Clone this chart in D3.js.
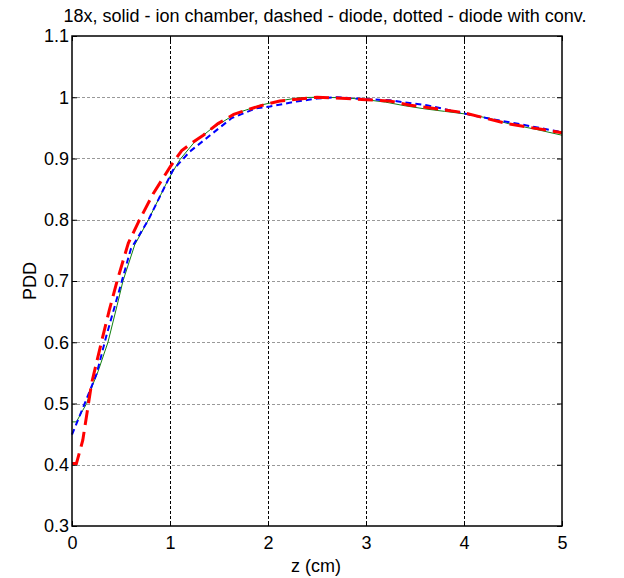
<!DOCTYPE html>
<html>
<head>
<meta charset="utf-8">
<script src="https://cdn.jsdelivr.net/npm/d3@7"></script>
<style>
  body { margin: 0; background: #fff; }
  text { font-family: "Liberation Sans", Arial, sans-serif; }
</style>
</head>
<body>
<svg width="624" height="578"></svg>
<script>
// ion chamber (solid)
var ionZ = [0, 0.045, 0.11, 0.15, 0.21, 0.265, 0.367, 0.46, 0.52, 0.64, 0.78, 0.98, 1.1, 1.24, 1.41, 1.68, 1.92, 2.15, 2.33, 2.53, 2.8, 3.0, 3.2, 3.4, 3.6, 3.8, 4.0, 4.25, 4.45, 4.75, 5.0]
var ionPDD = [0.470, 0.470, 0.489, 0.500, 0.530, 0.552, 0.600, 0.660, 0.700, 0.759, 0.800, 0.865, 0.898, 0.925, 0.947, 0.974, 0.987, 0.995, 0.9995, 1.0, 0.999, 0.996, 0.992, 0.986, 0.981, 0.977, 0.973, 0.966, 0.957, 0.947, 0.938]
// diode (dashed)
var diodeZ = [0, 0.13, 0.25, 0.35, 0.47, 0.6, 0.78, 1.03, 1.2, 1.41, 1.63, 1.88, 2.02, 2.29, 2.5, 2.71, 3.0, 3.24, 3.62, 4.13, 4.57, 5.0]
var diodePDD = [0.449, 0.500, 0.548, 0.610, 0.678, 0.752, 0.800, 0.881, 0.911, 0.938, 0.966, 0.982, 0.985, 0.993, 0.998, 1.0, 0.997, 0.995, 0.987, 0.969, 0.956, 0.943]
// diode with conversion (red)
var convZ = [0, 0.045, 0.11, 0.2, 0.30, 0.38, 0.46, 0.575, 0.68, 0.83, 1.0, 1.12, 1.22, 1.34, 1.49, 1.65, 1.78, 1.92, 2.12, 2.5, 2.8, 3.0, 3.24, 3.45, 3.99, 4.44, 5.0]
var convPDD = [0.402, 0.402, 0.44, 0.533, 0.600, 0.652, 0.700, 0.762, 0.797, 0.843, 0.886, 0.913, 0.925, 0.938, 0.957, 0.972, 0.979, 0.986, 0.994, 1.0, 0.998, 0.996, 0.994, 0.987, 0.975, 0.957, 0.942]

var xTicks = [0, 1, 2, 3, 4, 5]
var yTicks = [0.3, 0.4, 0.5, 0.6, 0.7, 0.8, 0.9, 1, 1.1]

var svg = d3.select("svg")
var plotL = 72, plotT = 36, plotR = 562, plotB = 526
var fontPx = "18px"

var x = d3.scaleLinear().domain([0, 5]).range([plotL, plotR])
var y = d3.scaleLinear().domain([0.3, 1.1]).range([plotB, plotT])

// grid
svg.append("g").selectAll("line")
  .data(xTicks.slice(1, -1))
  .enter().append("line")
  .attr("x1", function(d) { return Math.round(x(d)) + 0.5 })
  .attr("x2", function(d) { return Math.round(x(d)) + 0.5 })
  .attr("y1", plotT).attr("y2", plotB)
  .attr("stroke", "#000").attr("stroke-width", 1)
  .attr("stroke-dasharray", "3,2")

svg.append("g").selectAll("line")
  .data(yTicks.slice(1, -1))
  .enter().append("line")
  .attr("y1", function(d) { return Math.round(y(d)) + 0.5 })
  .attr("y2", function(d) { return Math.round(y(d)) + 0.5 })
  .attr("x1", plotL).attr("x2", plotR)
  .attr("stroke", "#999").attr("stroke-width", 1)
  .attr("stroke-dasharray", "3,2")

// axes
svg.append("g").attr("transform", "translate(0," + plotB + ")")
  .call(d3.axisBottom(x).tickValues(xTicks).tickSizeInner(-5).tickSizeOuter(0).tickPadding(10).tickFormat(d3.format("d")))
svg.append("g").attr("transform", "translate(" + plotL + ",0)")
  .call(d3.axisLeft(y).tickValues(yTicks).tickSizeInner(-5).tickSizeOuter(0).tickPadding(3).tickFormat(function(d) { return String(+d.toFixed(1)) }))
svg.append("g").attr("transform", "translate(" + plotR + ",0)")
  .call(d3.axisRight(y).tickValues(yTicks).tickSizeInner(-5).tickSizeOuter(0).tickFormat(""))
svg.append("g").attr("transform", "translate(0," + plotT + ")")
  .call(d3.axisTop(x).tickValues(xTicks).tickSizeInner(-5).tickSizeOuter(0).tickFormat(""))

svg.selectAll(".domain").remove()
svg.selectAll(".tick line").attr("stroke", "#000")
svg.selectAll(".tick text").attr("font-size", fontPx).attr("fill", "#000")
  .style("font-family", "Liberation Sans, Arial, sans-serif")

// curves
var line = d3.line()
  .x(function(d) { return x(d[0]) })
  .y(function(d) { return y(d[1]) })

function pairs(zs, vs) {
  return zs.map(function(z, i) { return [z, vs[i]] })
}

svg.append("path").datum(pairs(ionZ, ionPDD))
  .attr("d", line).attr("fill", "none")
  .attr("stroke", "#108010").attr("stroke-width", 1)

svg.append("path").datum(pairs(diodeZ, diodePDD))
  .attr("d", line).attr("fill", "none")
  .attr("stroke", "#0000ff").attr("stroke-width", 2)
  .attr("stroke-dasharray", "6,4")

svg.append("path").datum(pairs(convZ, convPDD))
  .attr("d", line).attr("fill", "none")
  .attr("stroke", "#ff0000").attr("stroke-width", 3)
  .attr("stroke-dasharray", "15,7")

// frame
svg.append("rect")
  .attr("x", plotL).attr("y", plotT)
  .attr("width", plotR - plotL).attr("height", plotB - plotT)
  .attr("fill", "none").attr("stroke", "#000").attr("stroke-width", 1.5)

// labels
svg.append("text")
  .attr("x", 325).attr("y", 22)
  .attr("text-anchor", "middle").attr("font-size", fontPx)
  .text("18x, solid - ion chamber, dashed - diode, dotted - diode with conv.")

svg.append("text")
  .attr("x", 316).attr("y", 572)
  .attr("text-anchor", "middle").attr("font-size", fontPx)
  .text("z (cm)")

svg.append("text")
  .attr("transform", "translate(36," + ((plotT + plotB) / 2) + ") rotate(-90)")
  .attr("text-anchor", "middle").attr("font-size", fontPx)
  .text("PDD")
</script>
</body>
</html>
